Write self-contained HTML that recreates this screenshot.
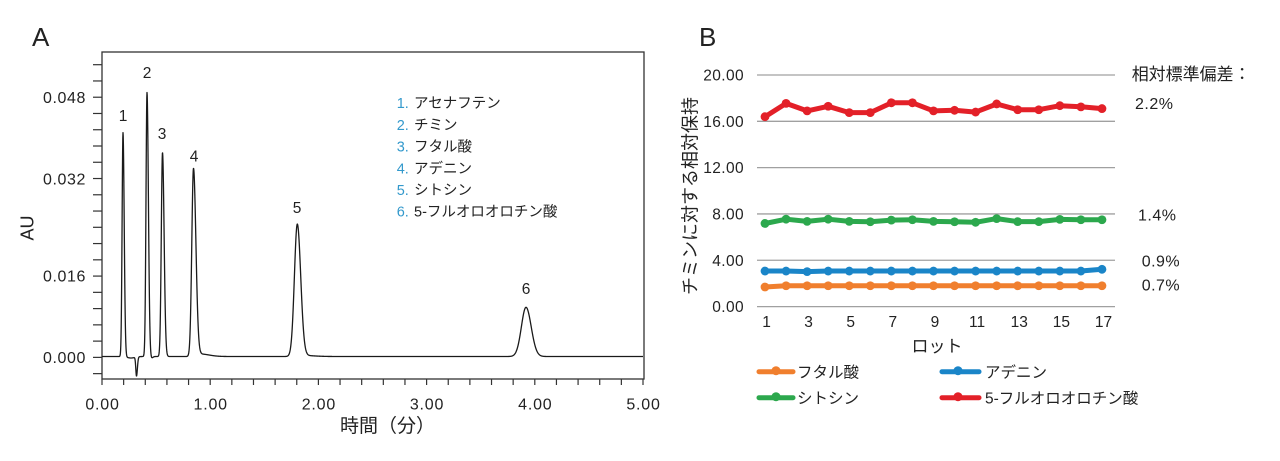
<!DOCTYPE html>
<html><head><meta charset="utf-8">
<style>
html,body{margin:0;padding:0;background:#fff;}
svg{display:block;}
text{font-family:"Liberation Sans","Noto Sans CJK JP",sans-serif;fill:#222;}
</style></head>
<body>
<svg id="s" width="1280" height="461" viewBox="0 0 1280 461" xmlns="http://www.w3.org/2000/svg">
<rect width="1280" height="461" fill="#fff"/>
<!-- Panel A -->
<text x="32" y="46" font-size="26">A</text>
<rect x="102" y="52" width="542" height="327" fill="none" stroke="#333" stroke-width="1.3"/>
<g id="aticks" stroke="#333" stroke-width="1.2"></g>
<g font-size="16" letter-spacing="0.6" text-anchor="end">
<text x="86" y="103">0.048</text>
<text x="86" y="184.3">0.032</text>
<text x="86" y="281.7">0.016</text>
<text x="86" y="362.9">0.000</text>
</g>
<g font-size="16" letter-spacing="0.8" text-anchor="middle">
<text x="102.5" y="409.5">0.00</text>
<text x="210.7" y="409.5">1.00</text>
<text x="318.9" y="409.5">2.00</text>
<text x="427" y="409.5">3.00</text>
<text x="535.3" y="409.5">4.00</text>
<text x="643.5" y="409.5">5.00</text>
</g>
<text x="340" y="432" font-size="19">時間（分）</text>
<text transform="translate(33.4,228) rotate(-90)" font-size="18" text-anchor="middle">AU</text>
<path id="chrom" d="" fill="none" stroke="#1a1a1a" stroke-width="1.3" stroke-linejoin="round"/>
<g font-size="15.5" text-anchor="middle">
<text x="123" y="121.2">1</text>
<text x="147" y="77.8">2</text>
<text x="162" y="138.8">3</text>
<text x="194" y="161.5">4</text>
<text x="297" y="212.8">5</text>
<text x="526" y="293.8">6</text>
</g>
<g font-size="14.5">
<text y="108.2"><tspan x="396.7" fill="#3399cc">1.</tspan><tspan x="414">アセナフテン</tspan></text>
<text y="129.9"><tspan x="396.7" fill="#3399cc">2.</tspan><tspan x="414">チミン</tspan></text>
<text y="151.6"><tspan x="396.7" fill="#3399cc">3.</tspan><tspan x="414">フタル酸</tspan></text>
<text y="173.3"><tspan x="396.7" fill="#3399cc">4.</tspan><tspan x="414">アデニン</tspan></text>
<text y="195"><tspan x="396.7" fill="#3399cc">5.</tspan><tspan x="414">シトシン</tspan></text>
<text y="216.7"><tspan x="396.7" fill="#3399cc">6.</tspan><tspan x="414">5-フルオロオロチン酸</tspan></text>
</g>

<!-- Panel B -->
<text x="699" y="46" font-size="26">B</text>
<g id="grid" stroke="#a0a0a0" stroke-width="1.3"></g>
<g font-size="15.5" letter-spacing="0.4" text-anchor="end">
<text x="744" y="80.5">20.00</text>
<text x="744" y="126.8">16.00</text>
<text x="744" y="173.1">12.00</text>
<text x="744" y="219.5">8.00</text>
<text x="744" y="265.8">4.00</text>
<text x="744" y="312.1">0.00</text>
</g>
<g id="xl" font-size="15.5" text-anchor="middle"></g>
<text x="937" y="352" font-size="17" text-anchor="middle">ロット</text>
<text transform="translate(696.3,196) rotate(-90)" font-size="18" text-anchor="middle">チミンに対する相対保持</text>
<g id="series"></g>
<text x="1131.7" y="79.8" font-size="17">相対標準偏差：</text>
<g font-size="16" letter-spacing="0.5">
<text x="1135" y="109">2.2%</text>
<text x="1138" y="220.7">1.4%</text>
<text x="1141.7" y="266.4">0.9%</text>
<text x="1141.7" y="290.7">0.7%</text>
</g>
<!-- Legend B -->
<g stroke-linecap="round" stroke-width="5">
<line x1="759" y1="371.7" x2="793" y2="371.7" stroke="#f07f2e"/>
<line x1="942" y1="371.7" x2="979" y2="371.7" stroke="#1a85c8"/>
<line x1="759" y1="397.7" x2="793" y2="397.7" stroke="#2ca84d"/>
<line x1="942" y1="397.7" x2="979" y2="397.7" stroke="#e32028"/>
</g>
<circle cx="776" cy="370.7" r="4.5" fill="#f07f2e"/>
<circle cx="958" cy="370.7" r="4.5" fill="#1a85c8"/>
<circle cx="776" cy="396.7" r="4.5" fill="#2ca84d"/>
<circle cx="958" cy="396.7" r="4.5" fill="#e32028"/>
<g font-size="15.5">
<text x="797" y="377.6">フタル酸</text>
<text x="985" y="377.6">アデニン</text>
<text x="797" y="403.6">シトシン</text>
<text x="985" y="403.6">5-フルオロオロチン酸</text>
</g>
</svg>
<script>
(function(){
var NS="http://www.w3.org/2000/svg";
function el(tag,attrs,parent,txt){var e=document.createElementNS(NS,tag);for(var k in attrs)e.setAttribute(k,attrs[k]);if(txt!==undefined)e.textContent=txt;parent.appendChild(e);return e;}
var at=document.getElementById("aticks");
for(var i=0;i<20;i++){var y=64.7+i*16.26;el("line",{x1:93,y1:y,x2:102,y2:y},at);}
for(var i=0;i<=25;i++){var x=102+i*21.64;el("line",{x1:x,y1:379,x2:x,y2:385},at);}
var y0=356.5;
var pk=[[123,224,0.9,1.2],[147,264,1.0,1.4],[162.5,204,1.2,1.6],[193.5,188,1.7,2.4],[297.3,131.5,2.9,3.4],[526,49.2,4.6,5.2],
[136.5,-19,0.7,0.9],[131,-1.5,4,4],[151,-2,1.2,1.5],[200,2.5,3,9],[300,1.2,4,12]];
var d="";
for(var x=102;x<=643.01;x+=0.2){
 var v=0;
 for(var j=0;j<pk.length;j++){var p=pk[j];var s=x<p[0]?p[2]:p[3];var t=(x-p[0])/s;if(Math.abs(t)<8)v+=p[1]*Math.exp(-0.5*t*t);}
 var y=y0-v;
 d+=(d?"L":"M")+x.toFixed(2)+" "+y.toFixed(2);
}
document.getElementById("chrom").setAttribute("d",d);
function Y(v){return 306.6-11.58*v;}
function X(l){return 765+(l-1)*21.06;}
var g=document.getElementById("grid");
for(var k=0;k<=5;k++){var y=Y(k*4);el("line",{x1:757,y1:y,x2:1115,y2:y},g);}
var xl=document.getElementById("xl");
for(var l=1;l<=17;l+=2){el("text",{x:X(l)+1.5,y:327.2},xl,String(l));}
var data=[
["#f07f2e",[1.69,1.8,1.8,1.8,1.8,1.8,1.8,1.8,1.8,1.8,1.8,1.8,1.8,1.8,1.8,1.8,1.8]],
["#1a85c8",[3.07,3.07,3.02,3.07,3.07,3.07,3.07,3.07,3.07,3.07,3.07,3.07,3.07,3.07,3.07,3.07,3.22]],
["#2ca84d",[7.18,7.55,7.36,7.55,7.36,7.33,7.47,7.5,7.36,7.33,7.28,7.6,7.34,7.34,7.53,7.5,7.5]],
["#e32028",[16.4,17.55,16.9,17.3,16.75,16.75,17.6,17.6,16.9,16.95,16.8,17.5,17.0,17.0,17.35,17.25,17.1]]
];
var sg=document.getElementById("series");
data.forEach(function(s){
 var pts=s[1].map(function(v,i){return X(i+1).toFixed(1)+","+Y(v).toFixed(1);}).join(" ");
 el("polyline",{points:pts,fill:"none",stroke:s[0],"stroke-width":5,"stroke-linejoin":"round","stroke-linecap":"round"},sg);
 s[1].forEach(function(v,i){el("circle",{cx:X(i+1),cy:Y(v),r:4.4,fill:s[0]},sg);});
});
})();
</script>
</body></html>
